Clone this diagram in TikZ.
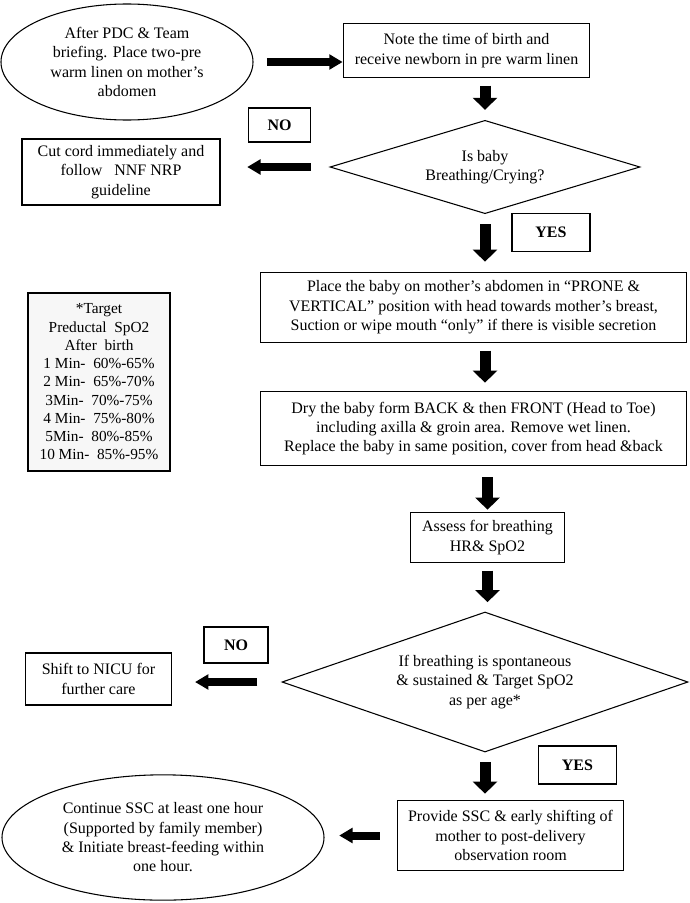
\documentclass[tikz,border=0pt]{standalone}
\usepackage{fontspec}
\setmainfont{Liberation Serif}
\usetikzlibrary{positioning,shapes.geometric,arrows.meta,calc}

\begin{document}
\begin{tikzpicture}[x=0.75pt, y=-0.75pt, line width=0.8pt,
        box/.style={draw, rectangle, align=center, inner sep=0pt, font=\fontsize{12}{14.5}\selectfont},
        tag/.style={box, font=\fontsize{12}{14.5}\selectfont\bfseries},
        oval/.style={draw, ellipse, align=center, inner sep=0pt, font=\fontsize{12}{14.5}\selectfont},
        decision/.style={draw, diamond, align=center, inner sep=0pt, font=\fontsize{12}{14.5}\selectfont},
        vflow/.style={line width=8.25pt, -{Triangle[width=18pt,length=9pt]}},
        hflow/.style={line width=6pt, -{Triangle[width=11pt,length=10pt]}}]
        \useasboundingbox (0,0) rectangle (689,903);

        % Nodes
        \node[oval, minimum width=189pt, minimum height=87pt] (start) at (127,62) {After PDC \& Team\\briefing. Place two-pre\\warm linen on mother’s\\abdomen};
        \node[box, minimum width=185pt, minimum height=40pt] (note) at (466.5,50.5) {Note the time of birth and\\receive newborn in pre warm linen};
        \node[decision, minimum width=232.5pt, minimum height=70pt, aspect=3.3] (breath) at (485,167) {Is baby\\Breathing/Crying?};
        \node[tag, minimum width=47pt, minimum height=25.5pt] (no1) at (279.5,125) {NO};
        \node[box, minimum width=148.5pt, minimum height=49.5pt] (cut) at (121,172) {Cut cord immediately and\\follow \ \ NNF NRP\\guideline};
        \node[tag, minimum width=58.5pt, minimum height=29pt] (yes1) at (551,232.5) {YES};
        \node[box, minimum width=320pt, minimum height=52pt] (place) at (473.5,307.5) {Place the baby on mother’s abdomen in “PRONE \&\\VERTICAL” position with head towards mother’s breast,\\Suction or wipe mouth “only” if there is visible secretion};
        \node[box, minimum width=320pt, minimum height=56pt] (dry) at (473.5,428.5) {Dry the baby form BACK \& then FRONT (Head to Toe)\\including axilla \& groin area. Remove wet linen.\\Replace the baby in same position, cover from head \&back};
        \node[box, minimum width=116pt, minimum height=37pt] (assess) at (487.5,537.5) {Assess for breathing\\HR\& SpO2};
        \node[box, fill=gray!6, minimum width=106.5pt, minimum height=133.5pt, font=\fontsize{11.5}{13.7}\selectfont] (target) at (99,382) {*Target\\Preductal \ SpO2\\After \ birth\\1 Min- \ 60\%-65\%\\2 Min- \ 65\%-70\%\\3Min- \ 70\%-75\%\\4 Min- \ 75\%-80\%\\5Min- \ 80\%-85\%\\10 Min- \ 85\%-95\%};
        \node[decision, minimum width=304.5pt, minimum height=105pt, aspect=2.9] (check) at (485,682) {If breathing is spontaneous\\\& sustained \& Target SpO2\\as per age*};
        \node[tag, minimum width=48pt, minimum height=27pt] (no2) at (236,645) {NO};
        \node[box, minimum width=110pt, minimum height=39pt] (nicu) at (98.5,679) {Shift to NICU for\\further care};
        \node[tag, minimum width=58pt, minimum height=28.5pt] (yes2) at (577.5,765) {YES};
        \node[box, minimum width=169pt, minimum height=52pt] (provide) at (510.5,835.5) {Provide SSC \& early shifting of\\mother to post-delivery\\observation room};
        \node[oval, minimum width=241.5pt, minimum height=94pt] (finish) at (163,837.5) {Continue SSC at least one hour\\(Supported by family member)\\\& Initiate breast-feeding within\\one hour.};

        % Arrows
        \draw[hflow, shorten <=10pt] (start.east) -- (start.east -| note.west);
        \draw[vflow, shorten <=6pt, shorten >=7.5pt] (breath.north |- note.south) -- (breath.north);
        \draw[hflow, shorten <=14pt, shorten >=20pt] (breath.west) -- (breath.west -| cut.east);
        \draw[vflow, shorten <=7.5pt, shorten >=8pt] (breath.south) -- (breath.south |- place.north);
        \draw[vflow, shorten <=6pt, shorten >=6pt] (breath.south |- place.south) -- (breath.south |- dry.north);
        \draw[vflow, shorten <=8pt, shorten >=2pt] (assess.north |- dry.south) -- (assess.north);
        \draw[vflow, shorten <=6pt, shorten >=7pt] (assess.south) -- (assess.south |- check.north);
        \draw[hflow, shorten <=18pt, shorten >=17pt] (check.west) -- (check.west -| nicu.east);
        \draw[vflow, shorten <=7pt, shorten >=5pt] (check.south) -- (check.south |- provide.north);
        \draw[hflow, shorten <=13pt, shorten >=11pt] (provide.west) -- (provide.west -| finish.east);
    \end{tikzpicture}
\end{document}
